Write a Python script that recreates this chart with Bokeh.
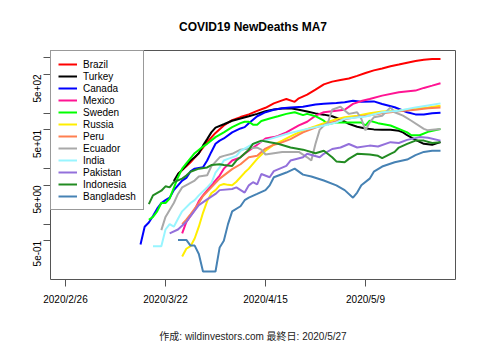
import math
from bokeh.plotting import figure
from bokeh.models import Range1d, FixedTicker
from bokeh.embed import file_html
from bokeh.resources import INLINE

# x = days since 2020/2/26
x_ticks = [0, 24, 48, 72]
x_labels = ["2020/2/26", "2020/3/22", "2020/4/15", "2020/5/9"]
y_ticks = [0.5, 1, 5, 10, 50, 100, 500, 1000]
y_labels = ["5e-01", "", "5e+00", "", "5e+01", "", "5e+02", ""]

countries = ["Brazil", "Turkey", "Canada", "Mexico", "Sweden", "Russia", "Peru",
             "Ecuador", "India", "Pakistan", "Indonesia", "Bangladesh"]
colors = ["#FF0000", "#000000", "#0000FF", "#FF1493", "#00FF00", "#FFEE00", "#FF7F50",
          "#A9A9A9", "#98F5FF", "#9370DB", "#228B22", "#4682B4"]

brazil_days = [27, 29, 30, 32, 34, 36, 38, 40, 42, 44, 46, 48, 50, 52, 53, 55, 56, 58, 60, 62,
               64, 66, 68, 70, 72, 74, 76, 78, 80, 82, 84, 86, 88, 90]
brazil_vals = [8, 11, 13, 19, 30, 44, 60, 75, 85, 95, 110, 125, 150, 170, 180, 160, 185, 215, 265, 330,
               370, 395, 420, 470, 530, 590, 640, 700, 750, 810, 870, 920, 945, 950]

turkey_days = [26, 27, 28, 29, 30, 31, 32, 33, 34, 35, 36, 38, 40, 42, 44, 46, 48, 50, 52, 54,
               56, 58, 60, 62, 64, 66, 68, 70, 72, 74, 76, 78, 80, 81, 82, 84, 86, 88, 90]
turkey_vals = [6, 8, 9.5, 11.5, 14, 16, 19, 26, 34, 45, 55, 63, 73, 80, 88, 97, 108, 116, 121, 122,
               115, 107, 99, 94, 88, 77, 64, 57, 53, 51, 50, 50, 48, 45, 40, 33, 28, 27, 30]

canada_days = [18, 19, 20, 21, 22, 23, 24, 25, 26, 27, 28, 29, 30, 31, 33, 34, 35, 36, 37, 38,
               40, 42, 43, 44, 46, 48, 50, 52, 54, 57, 60, 62, 65, 67, 69, 71, 74, 76, 79, 82,
               84, 86, 88, 90]
canada_vals = [0.43, 0.9, 1.07, 1.4, 1.9, 2.4, 2.7, 3.0, 4.1, 5.0, 6.1, 6.8, 8.9, 10, 10.6, 14, 20, 28, 32, 35,
               45, 53, 56, 66, 88, 104, 115, 122, 127, 130, 143, 148, 153, 157, 168, 160, 163, 146, 128, 104,
               95, 95, 100, 102]

mexico_days = [28, 29, 30, 31, 32, 33, 35, 37, 38, 40, 42, 43, 46, 48, 50, 51, 53, 56, 58, 60,
               62, 65, 67, 69, 71, 73, 76, 80, 84, 86, 88, 90]
mexico_vals = [0.68, 1.1, 1.4, 1.8, 2.6, 3.3, 5, 7.5, 10, 14, 16, 18.5, 27, 35, 37, 39, 45, 60, 70, 90,
               104, 111, 115, 147, 165, 180, 207, 237, 255, 285, 313, 345]

sweden_days = [20, 21, 22, 23, 24, 25, 26, 27, 28, 29, 31, 33, 34, 36, 38, 40, 42, 43, 44, 45,
               46, 47, 49, 51, 53, 55, 57, 58, 60, 62, 63, 64, 65, 67, 69, 71, 72, 73, 75, 76,
               78, 80, 82, 83, 85, 87, 90]
sweden_vals = [1.2, 1.35, 1.7, 2.4, 2.4, 2.9, 4.5, 7, 10, 12.5, 19, 25, 28, 37, 45, 56, 66, 70, 70, 62,
               62, 72, 80, 88, 97, 104, 92, 97, 88, 73, 63, 66, 68, 68, 68, 68, 60, 73, 66, 64,
               60, 52, 45, 40, 40, 46, 52]

russia_days = [28, 29, 30, 31, 32, 33, 34, 35, 36, 37, 38, 39, 40, 41, 43, 44, 46, 48, 50, 52,
               54, 57, 60, 62, 65, 67, 70, 73, 76, 80, 84, 87, 90]
russia_vals = [0.26, 0.36, 0.40, 0.55, 0.9, 1.6, 2.6, 3.6, 4.1, 5.0, 5.3, 5.1, 5.0, 5.8, 8.5, 10, 15, 21, 27, 32,
               38, 49, 58, 66, 78, 84, 90, 100, 107, 112, 120, 127, 136]

peru_days = [28, 29, 30, 32, 33, 35, 37, 40, 42, 44, 46, 48, 50, 51, 54, 57, 60, 64, 66, 68,
             70, 73, 76, 80, 84, 87, 90]
peru_vals = [1.0, 1.2, 1.5, 2.4, 3.2, 4.6, 6.6, 9.8, 12, 16, 17, 23, 27, 28, 34, 45, 55, 68, 75, 80,
             85, 92, 100, 108, 115, 122, 127]

ecuador_days = [23, 24, 25, 26, 27, 28, 31, 32, 34, 35, 37, 38, 40, 42, 44, 46, 47, 48, 50, 52,
                54, 56, 58, 59, 60, 61, 62, 63, 64, 66, 67, 68, 70, 71, 72, 73, 74, 76, 78, 79,
                81, 83, 86, 87, 88, 90]
ecuador_vals = [0.78, 1.35, 1.8, 2.4, 3.5, 4.6, 6.1, 7.2, 7.6, 11, 16, 17, 18.5, 22, 23, 24, 22, 18, 19, 20,
                20, 20, 16, 14, 28, 50, 60, 68, 115, 131, 112, 97, 104, 79, 49, 68, 84, 90, 127, 104,
                90, 73, 52, 49, 50, 52]

india_days = [21, 23, 24, 25, 26, 27, 28, 30, 31, 32, 34, 35, 36, 37, 38, 39, 41, 42, 45, 47,
              49, 53, 57, 62, 65, 67, 72, 76, 80, 84, 87, 90]
india_vals = [0.4, 0.4, 0.8, 1.0, 0.9, 1.25, 1.7, 2.4, 2.7, 3.3, 4.6, 5.5, 8.5, 10.5, 14, 15, 17, 21, 27.8, 31,
              34, 42, 50, 60, 68, 79, 87, 104, 110, 127, 138, 150]

pakistan_days = [25, 27, 29, 30, 32, 34, 36, 37, 40, 41, 43, 44, 45, 46, 47, 49, 50, 53, 54, 57,
                 58, 61, 62, 64, 66, 68, 70, 73, 75, 78, 80, 82, 85, 87, 90]
pakistan_vals = [0.68, 0.8, 1.1, 1.4, 2.2, 2.8, 3.5, 4.1, 4.3, 4.6, 3.7, 5, 5.7, 5.2, 8, 7, 9, 11.2, 14, 16,
                 18.5, 16, 18.5, 22.6, 24, 27.8, 24, 26, 25, 30, 29, 33, 37, 36, 32]

indonesia_days = [20, 21, 23, 24, 25, 26, 28, 29, 30, 32, 34, 35, 37, 38, 40, 41, 42, 44, 45, 47,
                  49, 51, 54, 57, 60, 62, 64, 65, 67, 68, 70, 73, 75, 76, 78, 79, 80, 82, 84, 86,
                  88, 90]
indonesia_vals = [2.3, 3.3, 4.0, 4.8, 4.6, 5.7, 6.6, 7.5, 8.8, 10, 10.5, 11.6, 12, 11.6, 11.2, 14, 16, 22, 28, 32,
                  30, 28, 24, 22, 19, 21, 16, 13.5, 13, 15, 18.5, 18, 17, 15.5, 18.5, 20, 24, 28, 32, 32,
                  29, 30]

bangladesh_days = [27, 29, 30, 31, 32, 33, 36, 37, 38, 39, 40, 42, 43, 44, 46, 48, 49, 50, 53, 55,
                   57, 59, 62, 65, 67, 69, 70, 71, 73, 74, 76, 79, 82, 84, 86, 88, 90]
bangladesh_vals = [0.52, 0.52, 0.41, 0.41, 0.29, 0.14, 0.14, 0.38, 0.5, 1.0, 1.7, 2.1, 2.7, 3.0, 3.5, 4.1, 5.0, 7.0, 8.5, 10,
                   7.8, 7.2, 6.1, 5.0, 4.1, 3.0, 3.7, 5.0, 6.6, 8.8, 10.9, 13, 14.6, 17.5, 20, 21, 21]

series = [
    (brazil_days, brazil_vals), (turkey_days, turkey_vals), (canada_days, canada_vals),
    (mexico_days, mexico_vals), (sweden_days, sweden_vals), (russia_days, russia_vals),
    (peru_days, peru_vals), (ecuador_days, ecuador_vals), (india_days, india_vals),
    (pakistan_days, pakistan_vals), (indonesia_days, indonesia_vals), (bangladesh_days, bangladesh_vals),
]

caption = "作成: wildinvestors.com 最終日: 2020/5/27"

FONT = "Liberation Sans"
FRAME = "#555555"

p = figure(width=480, height=344, y_axis_type="log",
           x_range=Range1d(-3.6, 93.6), y_range=Range1d(0.1005, 1346),
           output_backend="svg", toolbar_location=None,
           min_border_left=50, min_border_right=25, min_border_top=49, min_border_bottom=63,
           background_fill_color="white", border_fill_color="white")

for name, col, (d, v) in zip(countries, colors, series):
    p.line(d, v, line_color=col, line_width=2, legend_label=name)

p.title.text = "COVID19 NewDeaths MA7"
p.title.align = "center"
p.title.text_font = FONT
p.title.text_font_size = "12px"
p.title.text_font_style = "bold"
p.title.text_color = "black"
p.title.standoff = 34

p.xgrid.visible = False
p.ygrid.visible = False
p.outline_line_color = FRAME
p.outline_line_width = 1

for ax in (p.xaxis[0], p.yaxis[0]):
    ax.axis_line_color = None
    ax.major_tick_out = 7
    ax.major_tick_in = 0
    ax.minor_tick_out = 0
    ax.minor_tick_in = 0
    ax.major_tick_line_color = FRAME
    ax.major_label_text_font = FONT
    ax.major_label_text_font_size = "10px"
    ax.major_label_text_color = "black"
    ax.major_label_standoff = 7

p.xaxis.ticker = FixedTicker(ticks=x_ticks)
p.xaxis.major_label_overrides = dict(zip(x_ticks, x_labels))
p.xaxis.axis_label = caption
p.xaxis.axis_label_standoff = 23
p.xaxis.axis_label_text_font = "Liberation Sans, Noto Sans CJK JP"
p.xaxis.axis_label_text_font_size = "10px"
p.xaxis.axis_label_text_font_style = "normal"
p.xaxis.axis_label_text_color = "#222222"

p.yaxis.ticker = FixedTicker(ticks=y_ticks)
p.yaxis.major_label_overrides = dict(zip(y_ticks, y_labels))
p.yaxis.major_label_orientation = math.pi / 2
p.yaxis.major_label_standoff = 6

lg = p.legend[0]
lg.location = "top_left"
lg.margin = 0
lg.padding = 7
lg.spacing = 0
lg.label_height = 12
lg.glyph_height = 12
lg.glyph_width = 19
lg.label_standoff = 6
lg.label_text_font = FONT
lg.label_text_font_size = "10px"
lg.label_text_color = "black"
lg.border_line_color = "#333333"
lg.border_line_width = 1
lg.background_fill_alpha = 1.0

open("out.html", "w").write(file_html(p, INLINE))
